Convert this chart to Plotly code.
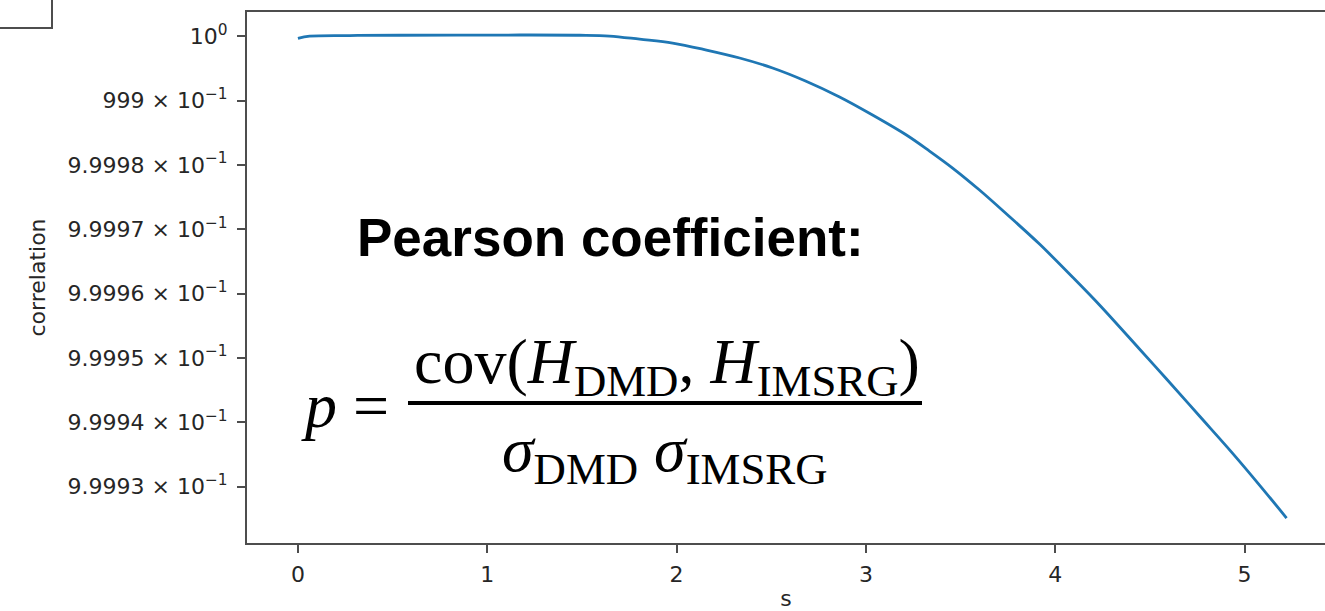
import plotly.graph_objects as go

# ---- data ----
s_values = [0.0, 0.062, 0.273, 0.537, 1.065, 1.488, 1.646, 1.805, 1.979, 2.158,
            2.333, 2.507, 2.681, 2.861, 3.035, 3.214, 3.336, 3.458, 3.600, 3.743,
            3.917, 4.091, 4.234, 4.445, 4.588, 4.762, 4.936, 5.079, 5.222]
correlation = [0.99999969, 1.00000002, 1.00000012, 1.00000017, 1.00000020, 1.00000017,
               1.00000004, 0.99999955, 0.99999896, 0.99999787, 0.99999663, 0.99999508,
               0.99999306, 0.99999057, 0.99998777, 0.99998466, 0.99998217, 0.99997953,
               0.99997611, 0.99997238, 0.99996771, 0.99996259, 0.99995824, 0.99995140,
               0.99994674, 0.99994099, 0.99993523, 0.99993026, 0.99992513]

x_ticks = [0, 1, 2, 3, 4, 5]
y_ticks = [1.0, 0.99999, 0.99998, 0.99997, 0.99996, 0.99995, 0.99994, 0.99993]
y_tick_labels = ["10<sup>0</sup>", "999 × 10<sup>−1</sup>",
                 "9.9998 × 10<sup>−1</sup>", "9.9997 × 10<sup>−1</sup>",
                 "9.9996 × 10<sup>−1</sup>", "9.9995 × 10<sup>−1</sup>",
                 "9.9994 × 10<sup>−1</sup>", "9.9993 × 10<sup>−1</sup>"]

W, H = 1325, 611
L, R, T, B = 247, 0, 12, 68
PW, PH = W - L - R, H - T - B


def px(xp):
    return (xp - L) / PW


def py(yp):
    return (H - B - yp) / PH


fig = go.Figure()
fig.add_trace(go.Scatter(x=s_values, y=correlation, mode="lines",
                         line=dict(color="#1f77b4", width=2.8, shape="spline", smoothing=1.0),
                         showlegend=False, hoverinfo="skip"))

tickfont = dict(family="DejaVu Sans", size=22, color="#262626")
fig.update_layout(
    width=W, height=H,
    margin=dict(l=L, r=R, t=T, b=B),
    paper_bgcolor="white", plot_bgcolor="white",
    xaxis=dict(range=[-0.269, 5.425], tickvals=x_ticks, ticktext=[str(v) for v in x_ticks],
               showgrid=False, zeroline=False, showline=True, linecolor="#4d4d4d",
               linewidth=2, mirror=True, ticks="outside", ticklen=8, tickwidth=2,
               tickcolor="#4d4d4d", tickfont=tickfont, ticklabelstandoff=3,
               automargin=False,
               title=dict(text="s", font=tickfont, standoff=20)),
    yaxis=dict(range=[0.99992125, 1.00000378], tickvals=y_ticks, ticktext=y_tick_labels,
               showgrid=False, zeroline=False, showline=True, linecolor="#4d4d4d",
               linewidth=2, ticks="outside", ticklen=8, tickwidth=2,
               tickcolor="#4d4d4d", tickfont=tickfont, ticklabelstandoff=5,
               automargin=False,
               title=dict(text="correlation", font=tickfont, standoff=16)),
)

# top-left corner box
fig.add_shape(type="rect", xref="paper", yref="paper",
              x0=px(-5), x1=px(52), y0=py(28), y1=py(-5),
              line=dict(color="#4d4d4d", width=2), fillcolor="rgba(0,0,0,0)")

# fraction bar
fig.add_shape(type="line", xref="paper", yref="paper",
              x0=px(408), x1=px(922), y0=py(403), y1=py(403),
              line=dict(color="black", width=4))

fig.add_annotation(text="<b>Pearson coefficient:</b>", xref="paper", yref="paper",
                   x=px(610), y=py(237), xanchor="center", yanchor="middle", showarrow=False,
                   font=dict(family="Liberation Sans", size=53, color="black"))
serif = dict(family="Liberation Serif", size=64, color="black")
fig.add_annotation(text="<i>p</i> =", xref="paper", yref="paper",
                   x=px(345), y=py(405), xanchor="center", yanchor="middle", showarrow=False,
                   font=serif)
fig.add_annotation(text="cov(<i>H</i><sub>DMD</sub>, <i>H</i><sub>IMSRG</sub>)",
                   xref="paper", yref="paper",
                   x=px(667), y=py(366), xanchor="center", yanchor="middle", showarrow=False,
                   font=serif)
fig.add_annotation(text="<i>σ</i><sub>DMD</sub> <i>σ</i><sub>IMSRG</sub>",
                   xref="paper", yref="paper",
                   x=px(665), y=py(454), xanchor="center", yanchor="middle", showarrow=False,
                   font=serif)

fig.write_html("out.html")
